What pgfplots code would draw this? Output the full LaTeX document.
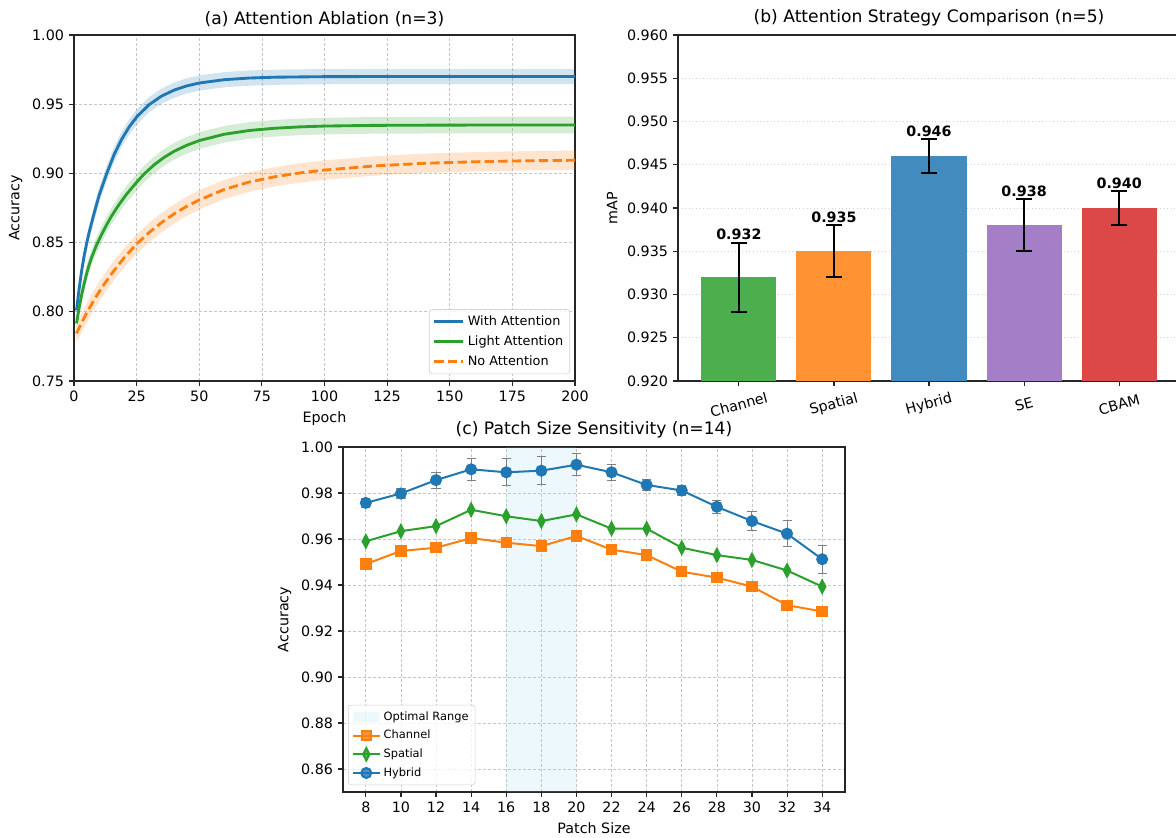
\documentclass[border=0pt]{standalone}
\usepackage{fontspec}
\setmainfont{DejaVu Sans}
\usepackage{pgfplots}
\usepackage{pgfplotstable}
\pgfplotsset{compat=1.18}
\usepgfplotslibrary{fillbetween}

\definecolor{tabblue}{RGB}{31,119,180}
\definecolor{taborange}{RGB}{255,127,14}
\definecolor{tabgreen}{RGB}{44,160,44}
\definecolor{tabred}{RGB}{214,39,40}
\definecolor{tabpurple}{RGB}{148,103,189}
\definecolor{skyblue}{RGB}{135,206,235}
\definecolor{bargreen}{RGB}{76,174,76}
\definecolor{barorange}{RGB}{255,146,50}
\definecolor{barblue}{RGB}{65,139,191}
\definecolor{barpurple}{RGB}{164,126,199}
\definecolor{barred}{RGB}{220,71,72}

\pgfplotstableread{
x y
1 0.801
2 0.816
3 0.829
4 0.840
5 0.849
6 0.857
8 0.871
10 0.884
13 0.8996
16 0.9135
19 0.9246
22 0.9335
25 0.9407
30 0.9497
35 0.9559
40 0.9602
45 0.9632
50 0.9653
60 0.9677
70 0.9689
80 0.9695
100 0.9699
125 0.9700
150 0.9700
175 0.9700
200 0.9700
}\blueA

\pgfplotstableread{
x y
1 0.7916
2 0.8024
3 0.8118
4 0.8200
5 0.8273
6 0.8336
7 0.8391
9 0.8482
11 0.8558
13 0.8628
15 0.8692
18 0.8776
21 0.8850
25 0.8936
28 0.8996
32 0.9062
36 0.9116
40 0.9160
45 0.9203
50 0.9237
60 0.9283
70 0.9310
80 0.9326
90 0.9336
100 0.9342
120 0.9347
150 0.9349
200 0.9350
}\greenA

\pgfplotstableread{
x y
1 0.7844
3 0.7920
5 0.7990
8 0.8085
11 0.8172
15 0.8275
20 0.8390
25 0.8490
30 0.8573
35 0.8645
40 0.8708
45 0.8762
50 0.8808
60 0.8884
70 0.8938
80 0.8975
90 0.9003
100 0.9024
120 0.9054
140 0.9073
160 0.9084
180 0.9091
200 0.9095
}\orangeA

\pgfplotstableread{
x ch sp hy he
8 0.9491 0.9590 0.9757 0.0019
10 0.9548 0.9634 0.9798 0.0020
12 0.9562 0.9656 0.9856 0.0035
14 0.9604 0.9727 0.9903 0.0049
16 0.9584 0.9699 0.9890 0.0059
18 0.9569 0.9678 0.9897 0.0060
20 0.9613 0.9707 0.9923 0.0049
22 0.9554 0.9645 0.9890 0.0036
24 0.9530 0.9645 0.9835 0.0023
26 0.9458 0.9562 0.9811 0.0020
28 0.9432 0.9530 0.9740 0.0027
30 0.9393 0.9509 0.9678 0.0043
32 0.9312 0.9463 0.9623 0.0056
34 0.9285 0.9393 0.9512 0.0060
}\patch

\pgfplotsset{
  common/.style={
    scale only axis,
    anchor=south west,
    tick pos=left,
    tick align=outside,
    major tick length=3.5pt,
    axis line style={line width=0.8pt, black!85},
    tick style={black!85, line width=0.8pt},
    tick label style={font=\fontsize{10}{12}\selectfont},
    label style={font=\fontsize{10}{12}\selectfont},
    title style={font=\fontsize{12}{14}\selectfont, yshift=-3.5pt},
    /pgf/number format/assume math mode=true,
    legend cell align=left,
  },
  dgrid/.style={grid=major, major grid style={gray!45, line width=0.5pt, dash pattern=on 2pt off 1.5pt}},
  mybar/.style={ybar, bar width=0.79, bar shift=0pt, draw=none,
    error bars/y dir=both, error bars/y explicit,
    error bars/error bar style={line width=1.3pt, black},
    error bars/error mark options={rotate=90, mark size=5.5pt, line width=1.3pt, black}},
}

\begin{document}
\begin{tikzpicture}

% ---------------- (a) ----------------
\begin{axis}[common, dgrid,
  at={(51.8pt,319.2pt)}, width=350.7pt, height=242.2pt,
  xmin=0, xmax=200, ymin=0.75, ymax=1.0,
  xtick={0,25,50,75,100,125,150,175,200},
  ytick={0.75,0.8,0.85,0.9,0.95,1.0},
  y tick label style={/pgf/number format/.cd, fixed, fixed zerofill, precision=2, /tikz/.cd},
  xlabel={Epoch}, ylabel={Accuracy},
  title={(a) Attention Ablation (n=3)},
  legend style={at={(0.99,0.02)}, anchor=south east, font=\fontsize{9}{11}\selectfont,
    draw=gray!35, rounded corners=2pt, fill=white, fill opacity=0.8, text opacity=1,
    inner sep=2.5pt, row sep=1.5pt},
  legend image code/.code={\draw[mark repeat=2,mark phase=2,#1] plot coordinates {(0cm,0cm) (0.36cm,0cm) (0.72cm,0cm)};},
]
\addplot[draw=none, name path=bu, forget plot] table[x=x, y expr=\thisrow{y}+0.0055]{\blueA};
\addplot[draw=none, name path=bl, forget plot] table[x=x, y expr=\thisrow{y}-0.0055]{\blueA};
\addplot[tabblue, fill opacity=0.2, draw=none, forget plot] fill between[of=bu and bl];
\addplot[draw=none, name path=gu, forget plot] table[x=x, y expr=\thisrow{y}+0.006]{\greenA};
\addplot[draw=none, name path=gl, forget plot] table[x=x, y expr=\thisrow{y}-0.006]{\greenA};
\addplot[tabgreen, fill opacity=0.2, draw=none, forget plot] fill between[of=gu and gl];
\addplot[draw=none, name path=ou, forget plot] table[x=x, y expr=\thisrow{y}+0.007]{\orangeA};
\addplot[draw=none, name path=ol, forget plot] table[x=x, y expr=\thisrow{y}-0.007]{\orangeA};
\addplot[taborange, fill opacity=0.2, draw=none, forget plot] fill between[of=ou and ol];
\addplot[tabblue, line width=2pt] table[x=x, y=y]{\blueA};
\addlegendentry{With Attention}
\addplot[tabgreen, line width=2pt] table[x=x, y=y]{\greenA};
\addlegendentry{Light Attention}
\addplot[taborange, line width=2pt, dash pattern=on 6.5pt off 3pt] table[x=x, y=y]{\orangeA};
\addlegendentry{No Attention}
\end{axis}

% ---------------- (b) ----------------
\begin{axis}[common,
  at={(474.6pt,319.2pt)}, width=351.4pt, height=242.2pt,
  xmin=-0.64, xmax=4.64, ymin=0.92, ymax=0.96,
  xtick={0,1,2,3,4}, xticklabels={Channel,Spatial,Hybrid,SE,CBAM},
  x tick label style={yshift=-13pt, rotate=15, anchor=center},
  ytick={0.92,0.925,0.93,0.935,0.94,0.945,0.95,0.955,0.96},
  y tick label style={/pgf/number format/.cd, fixed, fixed zerofill, precision=3, /tikz/.cd},
  ymajorgrids, major grid style={gray!35, line width=0.5pt, dotted},
  ylabel={mAP},
  title={(b) Attention Strategy Comparison (n=5)},
]
\addplot[mybar, fill=bargreen] coordinates {(0,0.932) +- (0,0.004)};
\addplot[mybar, fill=barorange] coordinates {(1,0.935) +- (0,0.003)};
\addplot[mybar, fill=barblue] coordinates {(2,0.946) +- (0,0.002)};
\addplot[mybar, fill=barpurple] coordinates {(3,0.938) +- (0,0.003)};
\addplot[mybar, fill=barred] coordinates {(4,0.940) +- (0,0.002)};
\addplot[only marks, mark=none, nodes near coords, point meta=explicit symbolic,
  nodes near coords style={font=\bfseries\fontsize{10}{12}\selectfont, anchor=south, inner sep=1.5pt}]
  coordinates {(0,0.936) [0.932] (1,0.938) [0.935] (2,0.948) [0.946] (3,0.941) [0.938] (4,0.942) [0.940]};
\end{axis}

% ---------------- (c) ----------------
\begin{axis}[common, dgrid,
  at={(240.1pt,31.5pt)}, width=351.4pt, height=241.5pt,
  xmin=6.7, xmax=35.3, ymin=0.85, ymax=1.0,
  xtick={8,10,12,14,16,18,20,22,24,26,28,30,32,34},
  ytick={0.86,0.88,0.90,0.92,0.94,0.96,0.98,1.00},
  y tick label style={/pgf/number format/.cd, fixed, fixed zerofill, precision=2, /tikz/.cd},
  xlabel={Patch Size}, ylabel={Accuracy},
  title={(c) Patch Size Sensitivity (n=14)},
  legend style={at={(0.01,0.02)}, anchor=south west, font=\fontsize{8}{10}\selectfont,
    draw=gray!35, rounded corners=2pt, fill=white, fill opacity=0.8, text opacity=1,
    inner sep=2.5pt, row sep=1.5pt},
  legend image code/.code={\draw[mark repeat=2,mark phase=2,#1] plot coordinates {(0cm,0cm) (0.33cm,0cm) (0.66cm,0cm)};},
]
\addplot[draw=none, fill=skyblue, fill opacity=0.15,
  legend image code/.code={\fill[skyblue, fill opacity=0.15] (0cm,-0.12cm) rectangle (0.66cm,0.12cm);}]
  coordinates {(16,0.85) (16,1.0) (20,1.0) (20,0.85) (16,0.85)};
\addlegendentry{Optimal Range}
\addplot[taborange, line width=1.4pt, mark=square*, mark size=3.3pt, mark options={solid}] table[x=x, y=ch]{\patch};
\addlegendentry{Channel}
\addplot[tabgreen, line width=1.4pt, mark=diamond*, mark size=4.3pt, mark options={solid, xscale=0.7}] table[x=x, y=sp]{\patch};
\addlegendentry{Spatial}
\addplot[tabblue, line width=1.4pt, mark=*, mark size=3.5pt,
  error bars/y dir=both, error bars/y explicit,
  error bars/error bar style={gray, line width=0.7pt},
  error bars/error mark options={rotate=90, gray, mark size=3.2pt, line width=0.7pt}]
  table[x=x, y=hy, y error=he]{\patch};
\addlegendentry{Hybrid}
\end{axis}

\pgfresetboundingbox
\useasboundingbox (0,0) rectangle (823.2pt,585.9pt);
\end{tikzpicture}
\end{document}
